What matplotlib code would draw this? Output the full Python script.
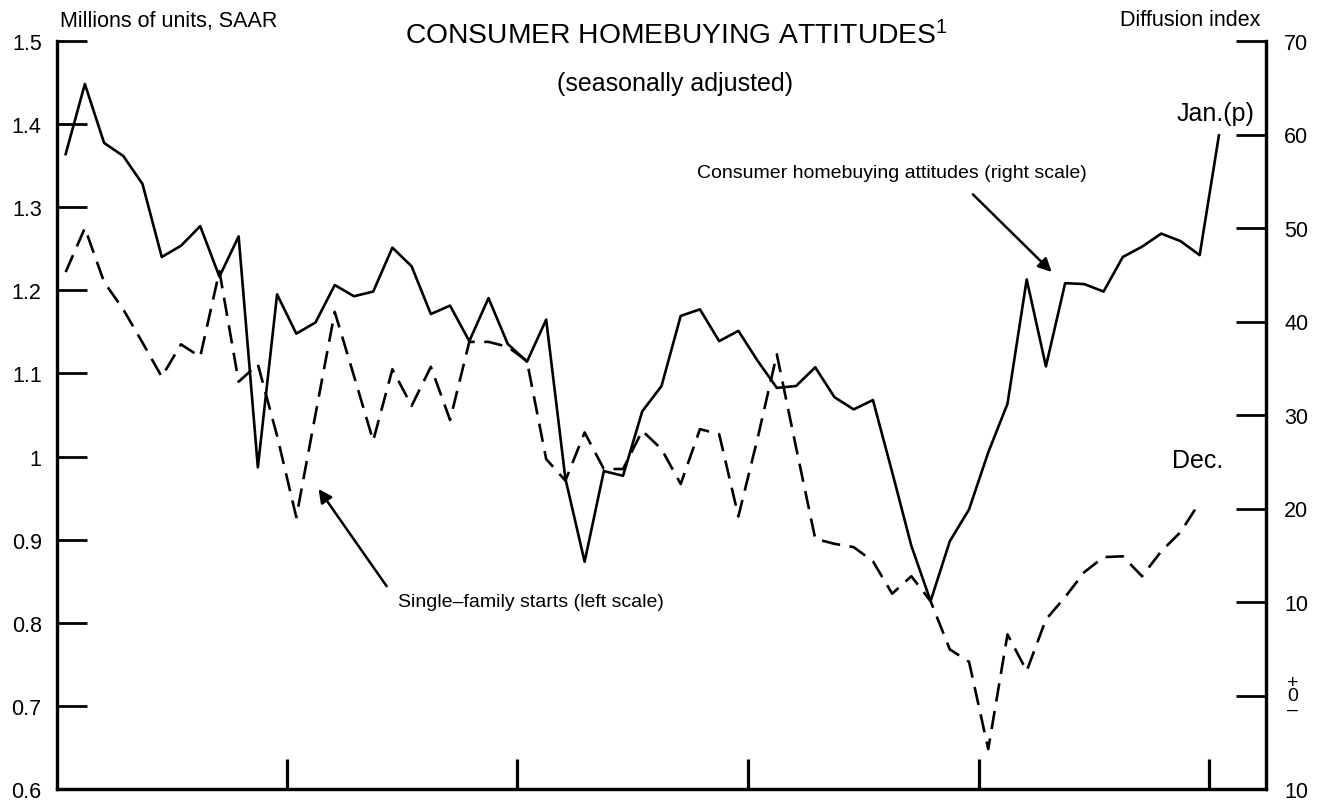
import numpy as np
import matplotlib
matplotlib.use("Agg")
import matplotlib.pyplot as plt

plt.rcParams['font.family'] = ['Liberation Sans', 'DejaVu Sans']
plt.rcParams['mathtext.default'] = 'regular'

# Consumer homebuying attitudes (diffusion index, right scale), Jan yr0 .. Jan yr5 (monthly)
attitudes = [57.9, 65.4, 59.1, 57.7, 54.7, 46.9, 48.1, 50.2, 44.8, 49.1,
             24.4, 42.9, 38.7, 39.9, 43.9, 42.7, 43.2, 47.9, 45.9, 40.8,
             41.7, 37.9, 42.5, 37.6, 35.7, 40.2, 23.2, 14.3, 24.0, 23.5,
             30.4, 33.1, 40.6, 41.3, 37.9, 39.0, 35.8, 32.9, 33.1, 35.1,
             31.9, 30.6, 31.6, 23.9, 16.0, 10.1, 16.5, 19.9, 26.0, 31.2,
             44.5, 35.2, 44.1, 44.0, 43.2, 46.9, 48.0, 49.4, 48.6, 47.1,
             59.9]

# Single-family starts (millions of units, SAAR, left scale), Jan yr0 .. Dec yr4
starts = [1.222, 1.275, 1.210, 1.177, 1.137, 1.096, 1.135, 1.120, 1.223, 1.090,
          1.111, 1.025, 0.927, 1.051, 1.174, 1.097, 1.019, 1.105, 1.061, 1.108,
          1.044, 1.138, 1.138, 1.132, 1.115, 0.997, 0.971, 1.029, 0.985, 0.985,
          1.031, 1.009, 0.967, 1.033, 1.027, 0.928, 1.022, 1.123, 1.011, 0.901,
          0.895, 0.891, 0.874, 0.835, 0.856, 0.826, 0.768, 0.753, 0.648, 0.786,
          0.742, 0.804, 0.831, 0.861, 0.879, 0.880, 0.856, 0.886, 0.909, 0.945]

left_ticks = [0.6, 0.7, 0.8, 0.9, 1.0, 1.1, 1.2, 1.3, 1.4, 1.5]
left_labels = ['0.6', '0.7', '0.8', '0.9', '1', '1.1', '1.2', '1.3', '1.4', '1.5']
right_ticks = [-10, 0, 10, 20, 30, 40, 50, 60, 70]
right_labels = ['10', '', '10', '20', '30', '40', '50', '60', '70']
year_bounds = [11.5, 23.5, 35.5, 47.5, 59.5]

fig = plt.figure(figsize=(13.24, 8.04), dpi=100)
ax = fig.add_axes([57/1324, 1 - 790/804, (1266 - 57)/1324, (790 - 42)/804])
ax2 = ax.twinx()

x_att = np.arange(len(attitudes))
x_st = np.arange(len(starts))

ax.plot(x_st, starts, color='black', lw=1.9, dashes=(7, 3.6))
ax2.plot(x_att, attitudes, color='black', lw=1.9)

ax.set_xlim(-0.45, 62.45)
ax.set_ylim(0.6, 1.5)
ax2.set_ylim(-10, 70)

ax.set_yticks(left_ticks)
ax.set_yticklabels(left_labels, fontsize=15.5)
ax2.set_yticks(right_ticks)
ax2.set_yticklabels(right_labels, fontsize=15.5)
ax.tick_params(axis='y', direction='in', length=21.5, width=2, pad=11)
ax2.tick_params(axis='y', direction='in', length=21.5, width=2, pad=13)
ax.set_xticks(year_bounds)
ax.set_xticklabels([])
ax.tick_params(axis='x', direction='in', length=21.5, width=2.3)

for a in (ax, ax2):
    a.spines['top'].set_visible(False)
    for s in ('left', 'right', 'bottom'):
        a.spines[s].set_linewidth(2.3)

# stacked +0- label at zero of right scale
ax2.text(1 + 21/1209, 0, '+\n0\n\u2013', transform=ax2.get_yaxis_transform(),
         fontsize=14, ha='left', va='center', linespacing=0.72)

fig.text(60/1324, 1 - 21/804, 'Millions of units, SAAR', fontsize=15.5, ha='left', va='center')
fig.text(1260/1324, 1 - 21/804, 'Diffusion index', fontsize=15.5, ha='right', va='center')
fig.text(676/1324, 1 - 36/804, 'CONSUMER HOMEBUYING ATTITUDES$^{1}$', fontsize=20.3,
         ha='center', va='center')
fig.text(675/1324, 1 - 84/804, '(seasonally adjusted)', fontsize=18, ha='center', va='center')

ax2.text(59.8, 61.0, 'Jan.(p)', fontsize=18, ha='center', va='bottom')
ax.text(58.9, 0.982, 'Dec.', fontsize=18, ha='center', va='bottom')

ax2.text(43.0, 55.9, 'Consumer homebuying attitudes (right scale)', fontsize=14,
         ha='center', va='center')
ax2.annotate('', xy=(51.3, 45.3), xytext=(47.2, 53.6),
             arrowprops=dict(arrowstyle='-|>', color='black', lw=1.8,
                             mutation_scale=20, shrinkA=0, shrinkB=0))
ax.text(24.2, 0.826, 'Single\u2013family starts (left scale)', fontsize=14,
        ha='center', va='center')
ax.annotate('', xy=(13.16, 0.961), xytext=(16.7, 0.844),
            arrowprops=dict(arrowstyle='-|>', color='black', lw=1.8,
                            mutation_scale=20, shrinkA=0, shrinkB=0))

fig.savefig('out.png', dpi=100)
